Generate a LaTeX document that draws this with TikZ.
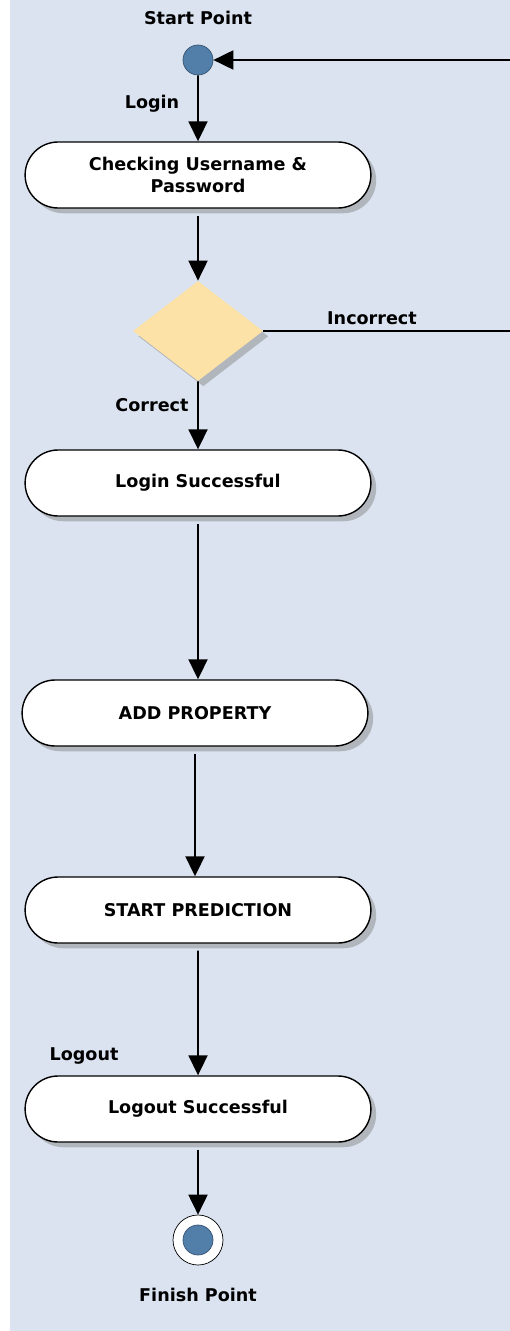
\documentclass[tikz,border=0pt]{standalone}
\usepackage{fontspec}
\setmainfont{DejaVu Sans}
\usetikzlibrary{shapes.geometric,shapes.misc,shadows,arrows.meta}
\definecolor{bgblue}{RGB}{218,227,239}
\definecolor{decfill}{RGB}{252,226,166}
\definecolor{dotfill}{RGB}{82,126,170}
\definecolor{dotline}{RGB}{55,85,115}
\begin{document}
\begin{tikzpicture}[
    activity/.style={rounded rectangle, draw, thick, fill=white, minimum width=7.15cm, minimum height=1.32cm, align=center, font=\bfseries\fontsize{10}{12.5}\selectfont, drop shadow={opacity=0.45, shadow xshift=3pt, shadow yshift=-3pt}},
    decision/.style={diamond, fill=decfill, minimum width=2.6cm, minimum height=2cm, inner sep=0pt, drop shadow={opacity=0.45, shadow xshift=3pt, shadow yshift=-3pt}},
    dot/.style={circle, draw=dotline, fill=dotfill, minimum size=0.6cm, inner sep=0pt},
    label/.style={font=\bfseries\fontsize{10}{12}\selectfont},
    arrow/.style={-{Triangle[length=0.4cm,width=0.38cm]}, line width=1.1pt}
]
\useasboundingbox (0,0) rectangle (10.18,-26.62);
\fill[bgblue] (0.2,0.1) rectangle (10.3,-26.8);

% Start
\node[label] (startlbl) at (3.96,-0.36) {Start Point};
\node[dot] (start) at (3.96,-1.2) {};

% Activities
\node[activity] (check) at (3.96,-3.5) {Checking Username \&\\Password};
\node[decision] (dec) at (3.96,-6.62) {};
\node[activity] (loginok) at (3.96,-9.66) {Login Successful};
\node[activity] (addprop) at (3.9,-14.26) {ADD PROPERTY};
\node[activity] (predict) at (3.96,-18.2) {START PREDICTION};
\node[activity] (logoutok) at (3.96,-22.18) {Logout Successful};

% Finish
\node[circle, draw, thin, fill=white, minimum size=1cm, inner sep=0pt] (finish) at (3.96,-24.8) {};
\node[dot] (finishdot) at (finish.center) {};
\node[label] (finishlbl) at (3.96,-25.9) {Finish Point};

\coordinate (back) at (10.24,-6.62);

\draw[arrow] (start) -- (check);
\draw[arrow] ([yshift=-4pt]check.south) -- (dec);
\draw[arrow] (dec) -- (loginok);
\draw[arrow] ([yshift=-4pt]loginok.south) -- (loginok.south |- addprop.north);
\draw[arrow] ([yshift=-4pt]addprop.south) -- (addprop.south |- predict.north);
\draw[arrow] ([yshift=-4pt]predict.south) -- (logoutok);
\draw[arrow] ([yshift=-4pt]logoutok.south) -- (finish);
\draw[arrow] (dec.east) -- (back) |- (start);

\node[label] (loginlbl) at (3.04,-2.08) {Login};
\node[label] (correctlbl) at (3.04,-8.1) {Correct};
\node[label] (incorrectlbl) at (7.44,-6.36) {Incorrect};
\node[label] (logoutlbl) at (1.68,-21.12) {Logout};
\end{tikzpicture}
\end{document}
